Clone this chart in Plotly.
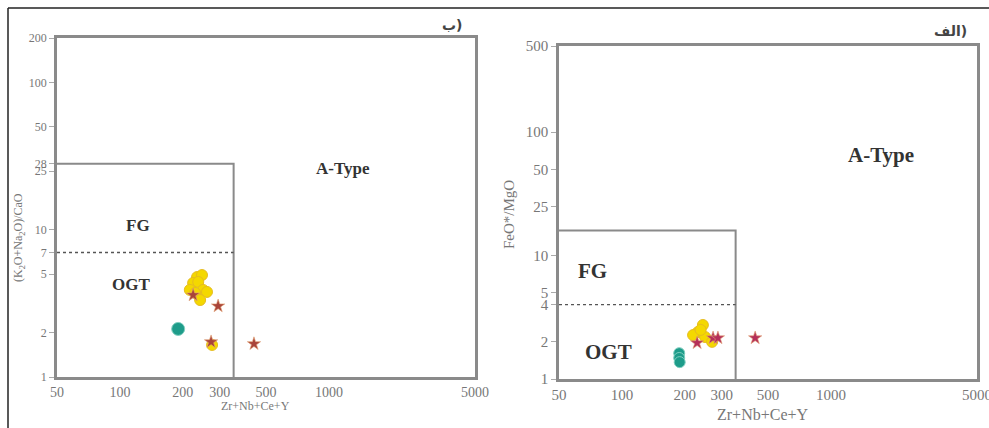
import math
import plotly.graph_objects as go

W, H = 989, 428

# ---- data: Zr+Nb+Ce+Y versus the two discrimination ratios ----
x_ticks = [50, 100, 200, 300, 500, 1000, 5000]
left_y_ticks = [1, 2, 5, 7, 10, 25, 28, 50, 100, 200]
right_y_ticks = [1, 2, 4, 5, 10, 25, 50, 100, 500]

# (K2O+Na2O)/CaO panel
left_yellow_x = [234, 247, 224, 237, 216, 250, 261, 229, 242, 276]
left_yellow_y = [4.77, 4.92, 4.35, 4.42, 3.9, 3.9, 3.78, 3.72, 3.33, 1.65]
left_star_x = [224, 295, 273, 438]
left_star_y = [3.6, 3.03, 1.73, 1.68]
left_teal_x = [190]
left_teal_y = [2.12]

# FeO*/MgO panel
right_yellow_x = [231, 244, 219, 250, 270, 238]
right_yellow_y = [2.40, 2.74, 2.27, 2.19, 2.0, 2.5]
right_star_x = [229, 273, 288, 434]
right_star_y = [1.96, 2.15, 2.15, 2.15]
right_teal_x = [188, 188, 189]
right_teal_y = [1.62, 1.48, 1.37]

# field boundaries (Whalen et al.)
box_x = [50, 350, 350]
left_box_y = [28, 28, 1]
right_box_y = [16, 16, 1]
dash_x = [50, 350]
left_dash_y = [7, 7]
right_dash_y = [4, 4]

FRAME = "#8a8a8a"
TICK = "#777777"
LABEL = "#333333"
SERIF = "Liberation Serif"


def dom_x(a, b):
    return [a / W, b / W]


def dom_y(top, bottom):
    return [1 - bottom / H, 1 - top / H]


fig = go.Figure()


def add_panel(xa, ya, yx, yy, sx, sy, tx, ty, box_y, dash_y, star_color, teal_size):
    fig.add_trace(go.Scatter(x=box_x, y=box_y, mode="lines", xaxis=xa, yaxis=ya,
                             line=dict(color=FRAME, width=2), hoverinfo="skip"))
    fig.add_trace(go.Scatter(x=dash_x, y=dash_y, mode="lines", xaxis=xa, yaxis=ya,
                             line=dict(color="#555555", width=1.3, dash="dot"), hoverinfo="skip"))
    fig.add_trace(go.Scatter(x=tx, y=ty, mode="markers", xaxis=xa, yaxis=ya,
                             marker=dict(symbol="circle", size=teal_size, color="#1e9c8a",
                                         line=dict(color="#7fcfc0", width=1))))
    fig.add_trace(go.Scatter(x=yx, y=yy, mode="markers", xaxis=xa, yaxis=ya,
                             marker=dict(symbol="circle", size=11, color="#f4d800",
                                         line=dict(color="#e6bc20", width=1))))
    fig.add_trace(go.Scatter(x=sx, y=sy, mode="markers", xaxis=xa, yaxis=ya,
                             marker=dict(symbol="star", size=10, color=star_color,
                                         line=dict(color="#e0a070", width=0.6))))


add_panel("x", "y", left_yellow_x, left_yellow_y, left_star_x, left_star_y,
          left_teal_x, left_teal_y, left_box_y, left_dash_y, "#a9443a", 13)
add_panel("x2", "y2", right_yellow_x, right_yellow_y, right_star_x, right_star_y,
          right_teal_x, right_teal_y, right_box_y, right_dash_y, "#b5305a", 11)

axis_common = dict(type="log", showgrid=False, zeroline=False, showline=True, mirror=True,
                   linecolor=FRAME, linewidth=2.5, tickmode="array", automargin=False,
                   ticklabeloverflow="allow")

fig.update_layout(
    width=W, height=H, margin=dict(l=0, r=0, t=0, b=0, autoexpand=False),
    paper_bgcolor="white", plot_bgcolor="white", showlegend=False,
    xaxis=dict(axis_common, domain=dom_x(57, 475), anchor="y",
               range=[math.log10(50), math.log10(5000)],
               tickvals=x_ticks, ticktext=[str(v) for v in x_ticks],
               ticks="", tickfont=dict(family=SERIF, size=14, color=TICK)),
    yaxis=dict(axis_common, domain=dom_y(38, 377), anchor="x",
               range=[0, math.log10(200)],
               tickvals=left_y_ticks, ticktext=[str(v) for v in left_y_ticks],
               ticks="outside", ticklen=5, tickcolor="#aaaaaa",
               tickfont=dict(family=SERIF, size=12, color=TICK)),
    xaxis2=dict(axis_common, domain=dom_x(559, 977), anchor="y2",
                range=[math.log10(50), math.log10(5000)],
                tickvals=x_ticks, ticktext=[str(v) for v in x_ticks],
                ticks="", tickfont=dict(family=SERIF, size=15, color=TICK)),
    yaxis2=dict(axis_common, domain=dom_y(46, 379), anchor="x2",
                range=[0, math.log10(500)],
                tickvals=right_y_ticks, ticktext=[str(v) for v in right_y_ticks],
                ticks="outside", ticklen=5, tickcolor="#aaaaaa",
                tickfont=dict(family=SERIF, size=15, color=TICK)),
)


def ann(px, py, text, size, color=LABEL, bold=True, angle=0, family=SERIF):
    fig.add_annotation(x=px / W, y=1 - py / H, xref="paper", yref="paper",
                       text=f"<b>{text}</b>" if bold else text, showarrow=False,
                       textangle=angle, xanchor="center", yanchor="middle",
                       font=dict(family=family, size=size, color=color))


# field names
ann(343, 168, "A-Type", 17)
ann(138, 225, "FG", 17)
ann(131, 284, "OGT", 17)
ann(881, 155, "A-Type", 21)
ann(592, 271, "FG", 21)
ann(608, 352, "OGT", 21)

# axis titles
ann(255, 406, "Zr+Nb+Ce+Y", 12, color="#777777", bold=False)
ann(763, 414, "Zr+Nb+Ce+Y", 16, color="#777777", bold=False)
ann(19, 238, "(K<sub>2</sub>O+Na<sub>2</sub>O)/CaO", 12, color="#777777", bold=False, angle=-90)
ann(509, 215, "FeO*/MgO", 15, color="#777777", bold=False, angle=-90)

# panel letters
ann(452, 25, "ب)", 14, color="#444444", family="DejaVu Sans")
ann(950, 31, "الف)", 14, color="#444444", family="DejaVu Sans")

# outer frame (top and left edges)
fig.add_shape(type="line", xref="paper", yref="paper", x0=8 / W, x1=1, y0=1 - 8 / H, y1=1 - 8 / H,
              line=dict(color="#222222", width=1.5))
fig.add_shape(type="line", xref="paper", yref="paper", x0=8 / W, x1=8 / W, y0=0, y1=1 - 8 / H,
              line=dict(color="#222222", width=1.5))

fig.write_html("out.html")
